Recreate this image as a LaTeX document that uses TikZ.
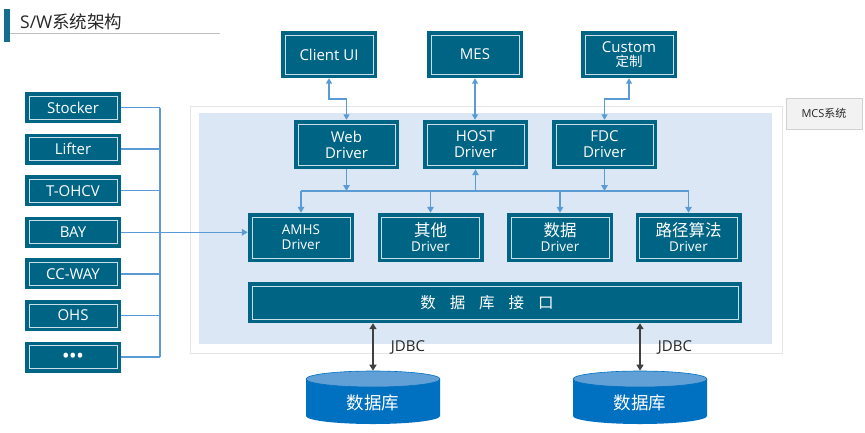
\documentclass[tikz,border=0pt]{standalone}
\usepackage{fontspec}
\setmainfont{Open Sans}
\newfontfamily\cjk{Noto Sans CJK SC}
\usetikzlibrary{arrows.meta,shapes.geometric}
\definecolor{tealbox}{RGB}{0,100,132}
\definecolor{titlebar}{RGB}{18,110,140}
\definecolor{inline}{RGB}{200,222,232}
\definecolor{connblue}{RGB}{91,155,213}
\definecolor{bgblue}{RGB}{219,231,245}
\definecolor{dbbody}{RGB}{0,112,192}
\definecolor{dbtop}{RGB}{96,160,214}
\definecolor{txtdark}{RGB}{38,38,38}
\tikzset{
  box/.style={rectangle, fill=tealbox, text=white, align=center, inner sep=0pt,
    font=\fontsize{15}{16}\selectfont,
    path picture={\draw[inline, line width=0.8pt]
      ([shift={(4pt,-4pt)}]path picture bounding box.north west) rectangle
      ([shift={(-4pt,4pt)}]path picture bounding box.south east);}},
  leftbox/.style={box, minimum width=96pt, minimum height=31pt},
  topbox/.style={box, minimum width=96pt, minimum height=47pt},
  drvbox/.style={box, minimum width=105pt, minimum height=49pt},
  modbox/.style={box, minimum width=106pt, minimum height=49pt, font=\fontsize{13.5}{15}\selectfont},
  conn/.style={draw=connblue, line width=1.5pt},
  tip/.style={-{Triangle[length=6pt,width=6.5pt]}},
  dtip/.style={{Triangle[length=5.5pt,width=6pt]}-{Triangle[length=5.5pt,width=6pt]}},
  dbarrow/.style={draw=black!75, line width=1.8pt, {Triangle[length=6pt,width=7pt]}-{Triangle[length=6pt,width=7pt]}},
  dbcap/.style={ellipse, minimum width=134pt, minimum height=16pt, inner sep=0pt, fill=dbtop, draw=dbbody, line width=0.6pt},
  dblabel/.style={text=white, font=\cjk\fontsize{17.5}{18}\selectfont},
  jdbc/.style={text=txtdark, font=\fontsize{15}{16}\selectfont}
}
\begin{document}
\begin{tikzpicture}[x=1pt,y=-1pt]
\useasboundingbox (0,0) rectangle (865,432);
% title
\fill[titlebar] (4,9) rectangle (10,42);
\draw[black!25, line width=1pt] (10,33.5) -- (220,33.5);
\node[anchor=west, text=txtdark, font=\fontsize{17.5}{19}\selectfont, inner sep=0pt] (title) at (20,22) {S/W{\cjk 系统架构}};
% MCS frame
\draw[black!10, fill=white, line width=0.8pt] (190,106) rectangle (782,353);
\fill[bgblue] (199,113) rectangle (772,344);
\node[draw=black!18, fill=black!5, minimum width=76pt, minimum height=31pt, inner sep=0pt,
  text=txtdark, font=\fontsize{11}{13}\selectfont] (mcs) at (824,113.5) {MCS{\cjk 系统}};
% left boxes
\node[leftbox] (stocker) at (73,107.5) {Stocker};
\node[leftbox] (lifter) at (73,149.1) {Lifter};
\node[leftbox] (tohcv) at (73,190.7) {T-OHCV};
\node[leftbox] (bay) at (73,232.3) {BAY};
\node[leftbox] (ccway) at (73,273.9) {CC-WAY};
\node[leftbox] (ohs) at (73,315.5) {OHS};
\node[leftbox] (more) at (73,357.1) {\bfseries\fontsize{16}{16}\selectfont •\kern1pt•\kern1pt•};
% top boxes
\node[topbox] (client) at (329,54.5) {Client UI};
\node[topbox] (mes) at (475,54.5) {MES};
\node[topbox] (custom) at (629,54.5) {Custom\\[-2pt]{\cjk\fontsize{13.5}{14}\selectfont 定制}};
% drivers
\node[drvbox] (web) at (346.5,144.5) {Web\\Driver};
\node[drvbox] (host) at (475.5,144.5) {HOST\\Driver};
\node[drvbox] (fdc) at (604.5,144.5) {FDC\\Driver};
% modules
\node[modbox] (amhs) at (301,237.5) {AMHS\\Driver};
\node[modbox] (other) at (430.5,237.5) {{\cjk\fontsize{16.5}{16}\selectfont 其他}\\Driver};
\node[modbox] (data) at (560,237.5) {{\cjk\fontsize{16.5}{16}\selectfont 数据}\\Driver};
\node[modbox] (route) at (688.5,237.5) {{\cjk\fontsize{16.5}{16}\selectfont 路径算法}\\Driver};
% db interface
\node[box, minimum width=494pt, minimum height=41pt] (dbi) at (495,302.5)
  {\cjk\fontsize{15.5}{16}\selectfont 数\hspace{14pt}据\hspace{14pt}库\hspace{14pt}接\hspace{14pt}口\hspace*{16pt}};
% databases
\fill[dbbody] (306,379) -- (306,416) arc[start angle=180, end angle=0, x radius=67, y radius=8] -- (440,379) -- cycle;
\node[dbcap] (cap1) at (373,379) {};
\node[dblabel] (db1) at (373,403) {数据库};
\fill[dbbody] (573,379) -- (573,416) arc[start angle=180, end angle=0, x radius=67, y radius=8] -- (707,379) -- cycle;
\node[dbcap] (cap2) at (640,379) {};
\node[dblabel] (db2) at (640,403) {数据库};
% JDBC
\draw[dbarrow] (dbi.south -| cap1.north) -- (cap1.north);
\draw[dbarrow] (dbi.south -| cap2.north) -- (cap2.north);
\node[jdbc] (j1) at (408,347) {JDBC};
\node[jdbc] (j2) at (675,347) {JDBC};
% left bus
\coordinate (lbus) at (160,0);
\draw[conn] (stocker.east -| lbus) -- (more.east -| lbus);
\foreach \b in {stocker,lifter,tohcv,ccway,ohs,more}{
  \draw[conn] (\b.east) -- (\b.east -| lbus);
}
\draw[conn,tip] (bay.east) -- (bay.east -| amhs.west);
% top connectors
\draw[conn,dtip] (client.south) -- ++(0,21) -| (web.north);
\draw[conn,dtip] (mes.south) -- (mes.south |- host.north);
\draw[conn,dtip] (custom.south) -- ++(0,21) -| (fdc.north);
% driver bus
\coordinate (bus) at (0,191);
\draw[conn] (amhs.north |- bus) -- (route.north |- bus);
\draw[conn,tip] (web.south) -- (web.south |- bus);
\draw[conn,tip] (host.south |- bus) -- (host.south);
\draw[conn,tip] (fdc.south) -- (fdc.south |- bus);
\foreach \m in {amhs,other,data,route}{
  \draw[conn,tip] (\m.north |- bus) -- (\m.north);
}
\end{tikzpicture}
\end{document}
